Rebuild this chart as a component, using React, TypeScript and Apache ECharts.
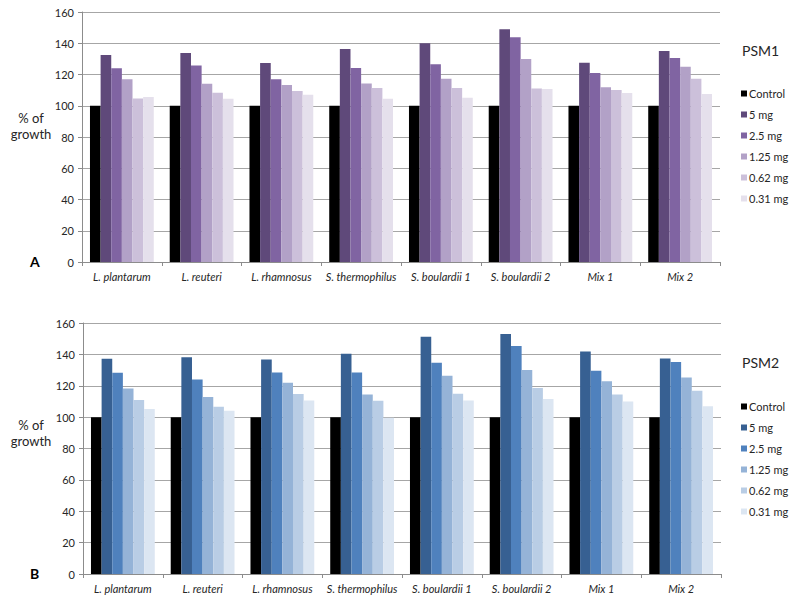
import React, { useEffect, useRef } from "react";
import * as echarts from "echarts";

const categories = [
  "L. plantarum",
  "L. reuteri",
  "L. rhamnosus",
  "S. thermophilus",
  "S. boulardii 1",
  "S. boulardii 2",
  "Mix 1",
  "Mix 2",
];
const doses = ["Control", "5 mg", "2.5 mg", "1.25 mg", "0.62 mg", "0.31 mg"];
const yTicks = [0, 20, 40, 60, 80, 100, 120, 140, 160];

// PSM1 (panel A)
const psm1Control = [100, 100, 100, 100, 100, 100, 100, 100];
const psm1_5 = [132.5, 133.8, 127.4, 136.3, 140, 148.9, 127.6, 135];
const psm1_25 = [124, 125.7, 116.9, 124.2, 126.5, 143.8, 121, 130.6];
const psm1_125 = [117, 114.1, 113.3, 114.3, 117.3, 129.9, 111.8, 125];
const psm1_062 = [104.7, 108.4, 109.4, 111.4, 111.4, 111.1, 110.1, 117.3];
const psm1_031 = [105.6, 104.5, 107.1, 104.5, 105.2, 110.7, 108.2, 107.5];

// PSM2 (panel B)
const psm2Control = [100, 100, 100, 100, 100, 100, 100, 100];
const psm2_5 = [137.2, 138.1, 136.8, 140.4, 151.3, 153, 141.9, 137.4];
const psm2_25 = [128.3, 124, 128.5, 128.5, 134.7, 145.3, 129.6, 135.1];
const psm2_125 = [118.3, 112.8, 121.9, 114.5, 126.4, 130, 122.8, 125.3];
const psm2_062 = [110.9, 106.6, 114.7, 110.4, 114.9, 118.5, 114.5, 116.8];
const psm2_031 = [105.1, 104, 110.6, 99.6, 110.6, 111.5, 110, 107];

const psm1Colors = ["#000000", "#5f497a", "#8064a2", "#b2a1c7", "#ccc0da", "#e5e0ec"];
const psm2Colors = ["#000000", "#376092", "#4f81bd", "#95b3d7", "#b9cde5", "#dce6f2"];

const FONT = "Lato, 'Open Sans', sans-serif";

export default function App() {
  const ref = useRef<HTMLDivElement>(null);

  useEffect(() => {
    if (!ref.current) return;
    const chart = echarts.init(ref.current, undefined, { renderer: "svg" });

    const psm1Data = [psm1Control, psm1_5, psm1_25, psm1_125, psm1_062, psm1_031];
    const psm2Data = [psm2Control, psm2_5, psm2_25, psm2_125, psm2_062, psm2_031];

    const makeSeries = (prefix: string, data: number[][], colors: string[], idx: number) =>
      doses.map((d, i) => ({
        name: prefix + "|" + d,
        type: "bar",
        xAxisIndex: idx,
        yAxisIndex: idx,
        data: data[i],
        barGap: "0%",
        barCategoryGap: "20%",
        itemStyle: { color: colors[i] },
      }));

    const xAxisCommon = {
      type: "category",
      data: categories,
      axisLine: { show: true, lineStyle: { color: "#8c8c8c", width: 1 } },
      axisTick: { show: true, length: 4, lineStyle: { color: "#8c8c8c" } },
      axisLabel: {
        color: "#262626",
        fontFamily: FONT,
        fontSize: 11,
        fontStyle: "italic",
        margin: 9,
        interval: 0,
      },
    };
    const yAxisCommon = {
      type: "value",
      min: 0,
      max: 160,
      interval: 20,
      axisLine: { show: true, lineStyle: { color: "#8c8c8c", width: 1 } },
      axisTick: { show: true, length: 4, lineStyle: { color: "#8c8c8c" } },
      axisLabel: {
        color: "#262626",
        fontFamily: FONT,
        fontSize: 11,
        margin: 8,
        formatter: (v: number) => (yTicks.includes(v) ? String(v) : ""),
      },
      splitLine: { show: true, lineStyle: { color: "#a6a6a6", width: 1 } },
    };

    const legendCommon = (prefix: string, top: number) => ({
      orient: "vertical",
      left: 736,
      top,
      itemWidth: 6,
      itemHeight: 6,
      itemGap: 8,
      icon: "rect",
      selectedMode: false,
      data: doses.map((d) => prefix + "|" + d),
      formatter: (name: string) => name.split("|")[1],
      textStyle: {
        color: "#262626",
        fontFamily: FONT,
        fontSize: 11,
        lineHeight: 13,
        padding: [0, 0, 0, -3],
      },
    });

    const sideLabel = (y: number) => ({
      type: "text",
      x: 31,
      y,
      style: {
        text: "% of\ngrowth",
        fontFamily: FONT,
        fontSize: 13,
        lineHeight: 16,
        fill: "#262626",
        align: "center",
        verticalAlign: "middle",
      },
    });

    chart.setOption({
      animation: false,
      backgroundColor: "#ffffff",
      textStyle: { fontFamily: FONT },
      title: [
        {
          text: "PSM1",
          left: 737,
          top: 38,
          textStyle: { fontFamily: FONT, fontSize: 14, fontWeight: "normal", color: "#262626" },
        },
        {
          text: "PSM2",
          left: 737,
          top: 350,
          textStyle: { fontFamily: FONT, fontSize: 14, fontWeight: "normal", color: "#262626" },
        },
      ],
      legend: [legendCommon("PSM1", 82), legendCommon("PSM2", 395)],
      grid: [
        { left: 82, width: 638, top: 12, height: 250, containLabel: false },
        { left: 83, width: 638, top: 323, height: 251, containLabel: false },
      ],
      xAxis: [
        { ...xAxisCommon, gridIndex: 0 },
        { ...xAxisCommon, gridIndex: 1 },
      ],
      yAxis: [
        { ...yAxisCommon, gridIndex: 0 },
        { ...yAxisCommon, gridIndex: 1 },
      ],
      series: [
        ...makeSeries("PSM1", psm1Data, psm1Colors, 0),
        ...makeSeries("PSM2", psm2Data, psm2Colors, 1),
      ],
      graphic: [
        sideLabel(126),
        sideLabel(433),
        {
          type: "text",
          left: 30,
          top: 254,
          style: { text: "A", fontFamily: FONT, fontSize: 14, fontWeight: "bold", fill: "#000" },
        },
        {
          type: "text",
          left: 30,
          top: 566,
          style: { text: "B", fontFamily: FONT, fontSize: 14, fontWeight: "bold", fill: "#000" },
        },
      ],
    });

    return () => chart.dispose();
  }, []);

  return (
    <div
      ref={ref}
      style={{ position: "fixed", left: 0, top: 0, width: 793, height: 605, background: "#fff" }}
    />
  );
}
